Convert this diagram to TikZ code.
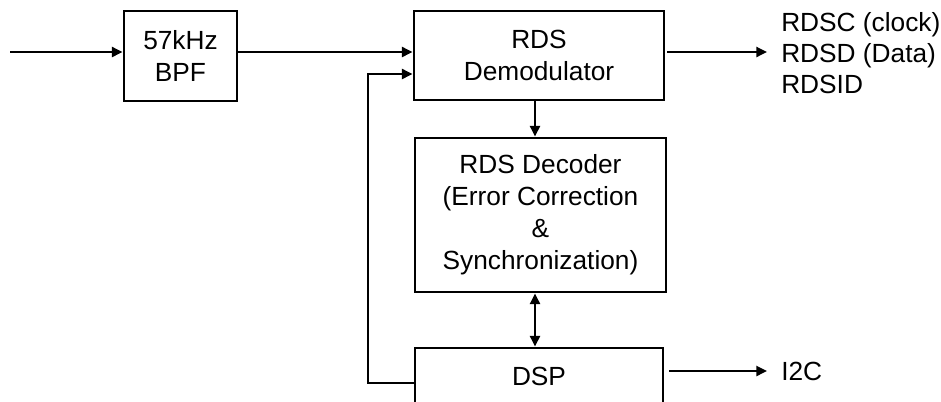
\documentclass[tikz,border=0pt]{standalone}
\usepackage{fontspec}
\setmainfont{Liberation Sans}
\usetikzlibrary{arrows.meta, positioning, calc}

\begin{document}
\begin{tikzpicture}[x=0.75pt, y=-0.75pt,
    block/.style={draw, line width=2.2pt, align=center, inner sep=0pt, font=\fontsize{19.7}{24}\selectfont},
    arr/.style={line width=1.7pt, -{Triangle[length=8pt, width=7.5pt]}},
    lbl/.style={align=left, inner ysep=0pt, inner xsep=10.5pt, font=\fontsize{19.7}{23}\selectfont}]
    \clip (0, 0) rectangle (941, 401);
    % blocks
    \node[block, minimum width=84.75pt, minimum height=67.5pt] (bpf) at (180.5, 56) {57kHz\\BPF};
    \node[block, minimum width=187.5pt, minimum height=66.75pt] (demod) at (539, 55.5) {RDS\\Demodulator};
    \node[block, minimum width=188.25pt, minimum height=115.5pt] (decoder) at (540.5, 215) {RDS Decoder\\(Error Correction\\\&\\Synchronization)};
    \node[block, minimum width=186pt, minimum height=42pt] (dsp) at (539, 376) {DSP};
    % outputs
    \node[lbl, anchor=west] (rdsout) at (767, 53) {RDSC (clock)\\RDSD (Data)\\RDSID};
    \node[lbl, anchor=west] (i2c) at (767, 371) {I2C};
    % helper points
    \coordinate (in) at (10, 52);
    \coordinate (fb) at (368, 74);
    \coordinate (vx) at (535, 0);
    % connectors
    \draw[arr] (in) -- (in -| bpf.west);
    \draw[arr] (in -| bpf.east) -- (in -| demod.west);
    \draw[arr] ([yshift=-5.25pt]dsp.west) -| (fb) -- (fb -| demod.west);
    \draw[arr] (vx |- demod.south) -- (vx |- decoder.north);
    \draw[line width=1.7pt, {Triangle[length=8pt, width=7.5pt]}-{Triangle[length=8pt, width=7.5pt]}] (vx |- decoder.south) -- (vx |- dsp.north);
    \draw[arr] ([xshift=1.5pt]in -| demod.east) -- (in -| rdsout.west);
    \draw[arr] ([xshift=3.75pt]i2c.west -| dsp.east) -- (i2c.west);
\end{tikzpicture}
\end{document}
